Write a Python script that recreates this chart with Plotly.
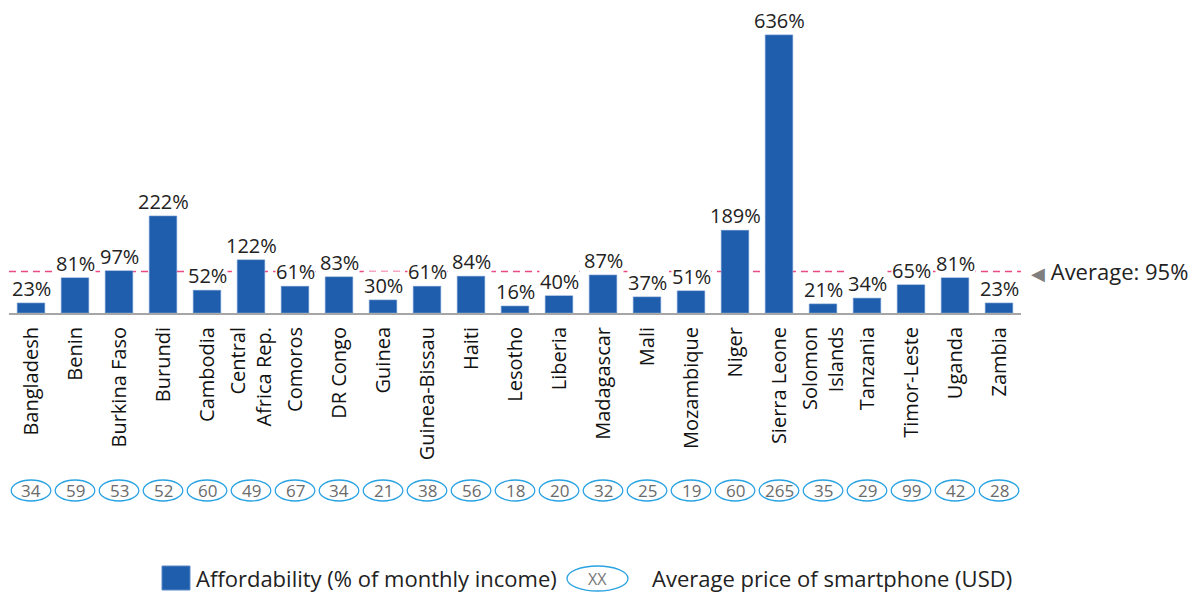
import plotly.graph_objects as go

countries = ["Bangladesh", "Benin", "Burkina Faso", "Burundi", "Cambodia", "Central<br>Africa Rep.",
             "Comoros", "DR Congo", "Guinea", "Guinea-Bissau", "Haiti", "Lesotho", "Liberia",
             "Madagascar", "Mali", "Mozambique", "Niger", "Sierra Leone", "Solomon<br>Islands",
             "Tanzania", "Timor-Leste", "Uganda", "Zambia"]
affordability = [23, 81, 97, 222, 52, 122, 61, 83, 30, 61, 84, 16, 40, 87, 37, 51, 189, 636, 21, 34, 65, 81, 23]
price_usd = [34, 59, 53, 52, 60, 49, 67, 34, 21, 38, 56, 18, 20, 32, 25, 19, 60, 265, 35, 29, 99, 42, 28]
average = 95

FONT = "Open Sans"
BAR = "#1f5eac"
ELL = "#2aa3e2"

OFF = 8  # page body margin
W, H = 1200 - OFF, 592 - OFF
# reference page pixels: plot x from 9 to 1021, baseline at 313, top margin 20
ML = 9 - OFF
MR = 1200 - 1021
MT = 20 - OFF
MB = 592 - 313
PH = H - MT - MB


def py(pix):
    return (592 - MB - pix) / PH


def px(pix):
    return (pix - 9) / (1021 - 9)


fig = go.Figure()
fig.add_trace(go.Bar(x=countries, y=affordability, marker=dict(color=BAR, line=dict(color="#5b88c6", width=1)),
                     width=0.62, showlegend=False, hoverinfo="x+y"))

shapes = []
annotations = []
# average line
shapes.append(dict(type="line", xref="paper", x0=0, x1=1, yref="y", y0=average, y1=average,
                   line=dict(color="#ec4a85", width=1.4, dash="7px,5px"), layer="below"))
annotations.append(dict(xref="paper", x=1, xshift=8, yref="y", y=average, xanchor="left", yanchor="middle",
                        text="<span style='color:#7f7f7f;font-size:18px'>◀</span> Average: " + str(average) + "%",
                        showarrow=False, font=dict(family=FONT, size=22, color="#222")))
# value labels
for c, v in zip(countries, affordability):
    annotations.append(dict(x=c, y=v, yanchor="bottom", yshift=0, text=f"{v}%", showarrow=False,
                            bgcolor="white", borderpad=0, font=dict(family=FONT, size=20, color="#222")))
# price ellipses
for i, (c, p) in enumerate(zip(countries, price_usd)):
    shapes.append(dict(type="circle", xref="x", x0=i - 0.45, x1=i + 0.45, yref="paper",
                       y0=py(501), y1=py(480), line=dict(color=ELL, width=1.3)))
    annotations.append(dict(x=c, xref="x", yref="paper", y=py(490.5), text=str(p), showarrow=False,
                            yanchor="middle", font=dict(family=FONT, size=17, color="#6b6b6b")))

# legend
shapes.append(dict(type="rect", xref="paper", yref="paper", x0=px(162), x1=px(190), y0=py(590), y1=py(566),
                   fillcolor=BAR, line=dict(color="#5b88c6", width=1)))
annotations.append(dict(xref="paper", yref="paper", x=px(194), y=py(578), xanchor="left", yanchor="middle",
                        text="Affordability (% of monthly income)", showarrow=False,
                        font=dict(family=FONT, size=22, color="#222")))
shapes.append(dict(type="circle", xref="paper", yref="paper", x0=px(567), x1=px(628), y0=py(591), y1=py(566),
                   line=dict(color=ELL, width=1.3)))
annotations.append(dict(xref="paper", yref="paper", x=px(597.5), y=py(578.5), xanchor="center", yanchor="middle",
                        text="XX", showarrow=False, font=dict(family=FONT, size=16, color="#777")))
annotations.append(dict(xref="paper", yref="paper", x=px(650), y=py(578), xanchor="left", yanchor="middle",
                        text="Average price of smartphone (USD)", showarrow=False,
                        font=dict(family=FONT, size=22, color="#222")))

fig.update_layout(
    width=W, height=H, margin=dict(l=ML, r=MR, t=MT, b=MB),
    plot_bgcolor="white", paper_bgcolor="white",
    bargap=0.38,
    xaxis=dict(type="category", tickangle=-90, showline=True, linecolor="#a6a6a6", linewidth=2,
               ticks="", ticklabelstandoff=4, tickfont=dict(family=FONT, size=20, color="#111"), showgrid=False),
    yaxis=dict(range=[0, 670], visible=False, showgrid=False, zeroline=False),
    shapes=shapes, annotations=annotations,
)

fig.write_html("out.html")
